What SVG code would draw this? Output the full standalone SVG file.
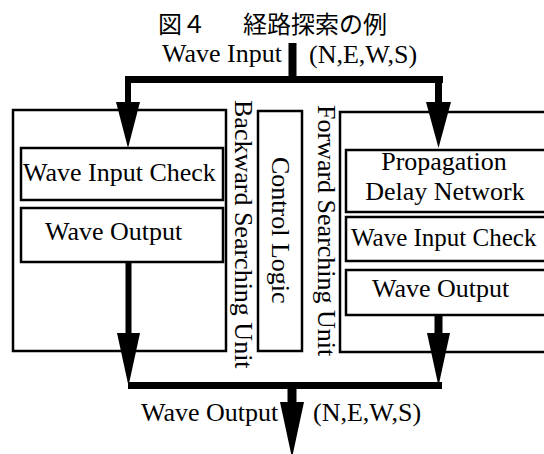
<svg xmlns="http://www.w3.org/2000/svg" width="544" height="454" viewBox="0 0 544 454">
<style>
.bg{fill:#fff}
.box{fill:#fff;stroke:#000;stroke-width:2.5}
.t{font-family:"Liberation Serif","Times New Roman",serif;font-size:26px;fill:#000}
.title{font-family:"Noto Sans CJK JP","Noto Sans CJK SC",sans-serif;font-size:24px;fill:#000}
.c{fill:#000;stroke:none}
</style>
<rect class="bg" x="0" y="0" width="544" height="454"/>
<text class="title" y="33"><tspan x="158">図４</tspan><tspan x="243">経路探索の例</tspan></text>

<g id="backward-unit">
<rect class="box" x="13" y="110" width="213" height="241"/>
<text class="t" transform="translate(235,100) rotate(90)">Backward Searching Unit</text>
</g>
<g id="backward-wave-input-check">
<rect class="box" x="21" y="148" width="202" height="52"/>
<text class="t" x="23" y="181">Wave Input Check</text>
</g>
<g id="backward-wave-output">
<rect class="box" x="21" y="208" width="202" height="54"/>
<text class="t" x="45" y="240">Wave Output</text>
</g>
<g id="control-logic">
<rect class="box" x="258" y="111" width="44" height="240"/>
<text class="t" transform="translate(272,157) rotate(90)">Control Logic</text>
</g>
<g id="forward-unit">
<rect class="box" x="340" y="112" width="230" height="240"/>
<text class="t" transform="translate(318,105) rotate(90)">Forward Searching Unit</text>
</g>
<g id="propagation-delay-network">
<rect class="box" x="346" y="150" width="220" height="62"/>
<text class="t" x="444" y="170" text-anchor="middle">Propagation</text>
<text class="t" x="445" y="200" text-anchor="middle">Delay Network</text>
</g>
<g id="forward-wave-input-check">
<rect class="box" x="346" y="217" width="220" height="44"/>
<text class="t" x="351" y="246" style="font-size:25px">Wave Input Check</text>
</g>
<g id="forward-wave-output">
<rect class="box" x="346" y="270" width="220" height="45"/>
<text class="t" x="372" y="297">Wave Output</text>
</g>

<g id="connectors">
<rect class="c" x="288.5" y="43" width="8" height="40"/>
<rect class="c" x="125" y="76" width="318" height="7"/>
<rect class="c" x="125" y="76" width="6" height="28"/>
<polygon class="c" points="116,102 140,102 128,148"/>
<rect class="c" x="435" y="76" width="7" height="28"/>
<polygon class="c" points="426,102 451,102 438.5,148"/>
<rect class="c" x="125.5" y="262" width="6" height="73"/>
<polygon class="c" points="117,333 140,333 128.5,386"/>
<rect class="c" x="434.5" y="315" width="8" height="20"/>
<polygon class="c" points="427,333 450,333 438.5,386"/>
<rect class="c" x="128" y="382" width="314" height="7"/>
<rect class="c" x="287.5" y="382" width="9" height="22"/>
<polygon class="c" points="280,402 304,402 292,458"/>
</g>

<g id="io-labels">
<text class="t" x="162" y="62">Wave Input</text>
<text class="t" x="309" y="63">(N,E,W,S)</text>
<text class="t" x="141" y="421">Wave Output</text>
<text class="t" x="313" y="421">(N,E,W,S)</text>
</g>
</svg>
